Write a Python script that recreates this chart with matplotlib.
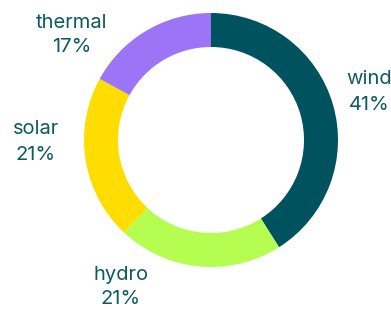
import matplotlib
matplotlib.use("Agg")
import matplotlib.pyplot as plt

categories = ["wind", "hydro", "solar", "thermal"]
values = [41, 21, 21, 17]
colors = ["#00535e", "#b5fd50", "#ffdd00", "#9b75f5"]
text_color = "#0d5a62"

W, H = 391, 313
fig = plt.figure(figsize=(W / 100, H / 100), dpi=100)
ax = fig.add_axes([0, 0, 1, 1])

cx, cy = 211, H - 140
R, r = 127, 93
ax.pie(values, colors=colors, startangle=90, counterclock=False,
       center=(cx, cy), radius=R, frame=True,
       wedgeprops=dict(width=R - r, linewidth=0))
ax.set_xlim(0, W)
ax.set_ylim(0, H)
ax.set_aspect("equal")
ax.axis("off")

label_pos = {"wind": (369, 92), "hydro": (121, 287), "solar": (36, 142), "thermal": (72, 35)}
for c, v in zip(categories, values):
    x, y = label_pos[c]
    ax.text(x, H - y, f"{c}\n{v}%", ha="center", va="center", fontsize=14.5,
            color=text_color, family="Inter", fontweight="normal", linespacing=1.5)

fig.savefig("out.png", dpi=100)
